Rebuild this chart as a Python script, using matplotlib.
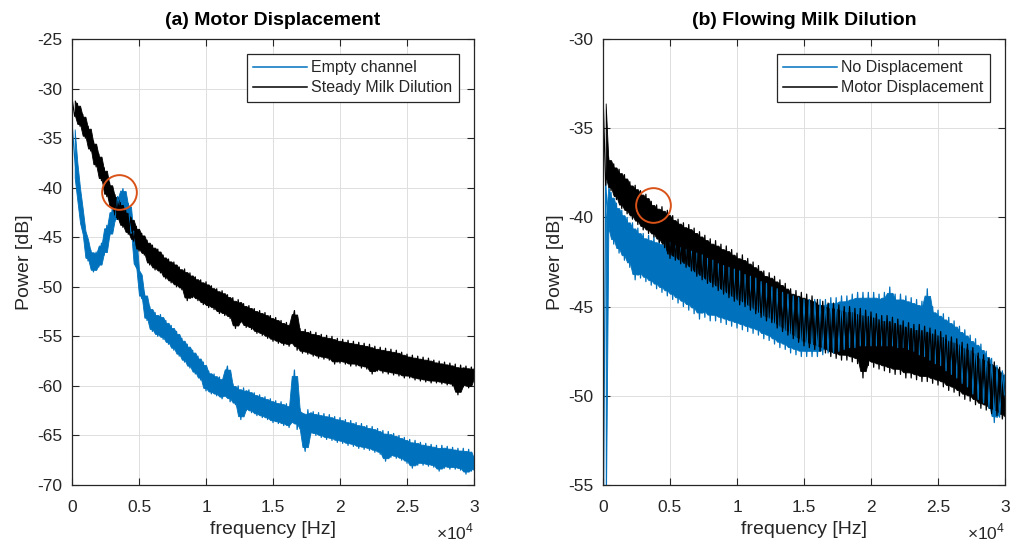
import numpy as np
import matplotlib
matplotlib.use("Agg")
import matplotlib.pyplot as plt

plt.rcParams['font.family'] = ['Liberation Sans', 'DejaVu Sans']
plt.rcParams['mathtext.fontset'] = 'custom'
plt.rcParams['mathtext.rm'] = 'Liberation Sans'

# ---------------- data ----------------
freq_step_hz = 200
n_samples = 151
freq_hz = np.arange(n_samples) * freq_step_hz

# (a) Motor Displacement
empty_channel_db = [
    -33.5, -37.0, -39.6, -41.8, -44.0, -45.0, -47.4, -46.3, -48.5, -46.5,
    -48.0, -45.6, -46.8, -43.8, -44.9, -42.2, -43.4, -40.9, -42.0, -40.1,
    -42.5, -41.6, -44.6, -44.4, -48.0, -48.5, -51.2, -50.6, -53.4, -52.0,
    -54.5, -52.6, -55.0, -52.8, -55.3, -53.4, -55.8, -53.9, -56.4, -54.5,
    -57.0, -55.2, -57.6, -55.8, -58.2, -56.4, -58.8, -57.0, -59.4, -57.6,
    -60.5, -58.5, -60.8, -58.8, -61.0, -59.1, -61.3, -59.3, -58.0, -61.6,
    -59.8, -61.9, -60.0, -63.4, -60.2, -62.5, -60.4, -62.7, -60.7, -63.0,
    -60.9, -63.2, -61.1, -63.4, -61.3, -63.7, -61.5, -63.8, -61.6, -64.0,
    -61.8, -64.2, -62.0, -58.4, -64.4, -62.3, -64.6, -66.6, -62.4, -64.9,
    -62.6, -65.0, -62.7, -65.2, -62.8, -65.4, -62.9, -65.5, -63.1, -65.7,
    -63.2, -65.8, -63.4, -66.0, -63.5, -66.1, -63.7, -66.3, -63.8, -66.4,
    -64.0, -66.5, -64.1, -66.7, -64.3, -66.9, -64.5, -67.6, -64.6, -67.2,
    -64.8, -67.3, -65.0, -67.5, -65.2, -67.8, -65.4, -68.3, -65.5, -68.0,
    -65.7, -68.0, -65.8, -68.1, -65.9, -68.2, -66.0, -68.6, -66.0, -68.3,
    -66.1, -68.4, -66.2, -68.4, -66.3, -68.5, -66.3, -68.9, -66.4, -68.6,
    -67.2,
]
steady_milk_db = [
    -31.0, -32.8, -31.5, -33.8, -32.6, -35.0, -33.8, -36.3, -35.3, -37.9,
    -36.6, -39.3, -38.0, -40.9, -39.5, -42.1, -40.7, -43.2, -41.5, -44.0,
    -42.3, -44.7, -43.0, -45.4, -43.9, -46.4, -44.6, -46.8, -45.3, -47.8,
    -45.8, -48.3, -46.2, -48.6, -46.8, -49.2, -47.2, -49.6, -47.5, -50.0,
    -48.0, -50.3, -48.2, -51.4, -48.6, -51.1, -49.0, -51.4, -49.3, -51.8,
    -49.5, -52.1, -49.9, -52.3, -50.2, -52.7, -50.4, -52.9, -50.8, -53.2,
    -51.1, -54.2, -51.3, -53.6, -51.7, -54.1, -51.9, -54.3, -52.2, -54.7,
    -52.4, -54.9, -52.6, -55.2, -52.9, -55.5, -53.1, -55.7, -53.4, -55.9,
    -53.6, -56.0, -53.8, -52.4, -56.4, -54.2, -56.7, -54.3, -56.8, -54.5,
    -57.0, -54.6, -57.2, -54.8, -57.3, -54.9, -57.4, -55.0, -57.8, -55.2,
    -57.7, -55.3, -57.8, -55.4, -58.0, -55.5, -58.0, -55.6, -58.2, -55.7,
    -58.3, -55.8, -58.8, -56.0, -58.5, -56.1, -58.7, -56.2, -58.8, -56.3,
    -58.9, -56.4, -59.0, -56.6, -59.2, -56.8, -59.2, -56.9, -59.4, -57.0,
    -59.5, -57.1, -59.6, -57.2, -59.7, -57.4, -59.7, -57.5, -59.8, -57.6,
    -59.9, -57.7, -60.0, -57.8, -60.9, -57.9, -60.1, -58.0, -60.2, -58.1,
    -59.3,
]

# (b) Flowing Milk Dilution
no_displacement_db = [
    -60.0, -38.0, -40.8, -38.6, -41.5, -39.2, -42.0, -39.6, -42.4, -40.0,
    -42.8, -40.3, -43.5, -40.6, -43.4, -40.9, -43.6, -41.0, -43.8, -41.1,
    -44.0, -41.2, -44.2, -41.3, -44.4, -41.4, -44.6, -41.6, -44.8, -41.7,
    -45.0, -41.8, -45.2, -41.9, -45.4, -42.0, -45.7, -42.1, -45.6, -42.3,
    -45.8, -42.4, -45.8, -42.6, -45.9, -42.7, -46.0, -42.8, -46.1, -42.9,
    -46.2, -43.0, -46.3, -43.2, -46.4, -43.3, -46.5, -43.4, -46.6, -43.6,
    -46.8, -43.7, -46.9, -43.9, -47.1, -44.0, -47.3, -44.2, -47.4, -44.3,
    -47.6, -44.4, -47.7, -44.5, -47.8, -44.6, -47.8, -44.6, -47.8, -44.6,
    -47.8, -44.6, -47.7, -44.6, -47.6, -44.5, -47.6, -44.5, -47.5, -44.4,
    -47.4, -44.4, -47.3, -44.3, -47.3, -44.2, -47.2, -44.2, -47.2, -44.2,
    -47.2, -44.2, -47.2, -44.3, -47.2, -44.2, -47.2, -43.9, -47.2, -44.3,
    -47.3, -44.3, -47.3, -44.4, -47.4, -44.5, -47.5, -44.6, -47.7, -44.7,
    -47.8, -44.0, -48.0, -45.0, -48.2, -45.2, -48.3, -45.4, -48.6, -45.6,
    -48.8, -45.8, -49.0, -46.1, -49.3, -46.3, -49.5, -46.6, -49.9, -46.8,
    -50.2, -47.1, -50.4, -47.5, -50.7, -47.9, -51.5, -48.3, -51.2, -48.6,
    -50.3,
]
motor_displacement_db = [
    -33.1, -38.2, -36.6, -38.5, -37.0, -39.0, -37.3, -39.5, -37.6, -39.8,
    -38.0, -40.1, -38.2, -40.4, -38.5, -40.7, -38.7, -40.9, -39.1, -41.1,
    -39.3, -41.4, -39.4, -41.7, -39.6, -42.3, -39.9, -42.4, -40.1, -42.6,
    -40.3, -42.8, -40.4, -43.0, -40.6, -43.3, -40.8, -43.5, -41.0, -43.7,
    -41.2, -43.9, -41.3, -44.1, -41.5, -44.3, -41.6, -44.5, -41.8, -44.7,
    -42.0, -44.9, -42.1, -45.0, -42.3, -45.2, -42.5, -45.4, -42.7, -45.6,
    -43.0, -45.8, -43.1, -45.9, -43.3, -46.2, -43.5, -46.4, -43.7, -46.6,
    -44.0, -46.8, -44.1, -47.0, -44.2, -47.2, -44.3, -47.3, -44.4, -47.4,
    -44.6, -47.5, -44.7, -47.6, -44.8, -47.8, -44.8, -47.9, -44.9, -48.0,
    -45.0, -48.0, -45.0, -48.1, -45.1, -48.2, -45.1, -49.0, -45.2, -48.3,
    -45.3, -48.4, -45.4, -48.5, -45.5, -48.6, -45.5, -48.7, -45.6, -48.8,
    -45.7, -48.8, -45.8, -49.0, -45.9, -49.0, -46.0, -49.1, -46.0, -49.2,
    -46.1, -49.2, -46.2, -49.3, -46.3, -49.4, -46.4, -49.5, -46.6, -49.7,
    -46.7, -49.8, -46.8, -50.0, -47.0, -50.2, -47.1, -50.3, -47.3, -50.5,
    -47.6, -50.7, -47.7, -50.8, -47.9, -51.0, -48.1, -51.1, -48.4, -51.3,
    -50.0,
]

# highlighted regions (orange circles)
circle_a_hz = [3500]
circle_a_db = [-40.4]
circle_b_hz = [3730]
circle_b_db = [-39.3]

xtick_hz = [0, 5000, 10000, 15000, 20000, 25000, 30000]
xtick_labels = ['0', '0.5', '1', '1.5', '2', '2.5', '3']
ytick_a = [-70, -65, -60, -55, -50, -45, -40, -35, -30, -25]
ytick_b = [-55, -50, -45, -40, -35, -30]

titles = ['(a) Motor Displacement', '(b) Flowing Milk Dilution']
legend_a = ['Empty channel', 'Steady Milk Dilution']
legend_b = ['No Displacement', 'Motor Displacement']

# ---------------- styling ----------------
BLUE = '#0072BD'
BLACK = '#000000'
ORANGE = '#D95319'
AXC = '#262626'

fig = plt.figure(figsize=(10.10, 5.45), dpi=100)
W, H = 1010, 545
ax_a = fig.add_axes([72 / W, 60 / H, 402 / W, 446 / H])
ax_b = fig.add_axes([603 / W, 60 / H, 402 / W, 446 / H])


def noisy_trace(ax, values, color, label):
    v = np.asarray(values, dtype=float)
    # local envelope of the trace (neighbouring samples); DC bin skipped
    prev_v = np.concatenate([v[:1], v[:-1]])
    next_v = np.concatenate([v[1:], v[-1:]])
    lo = np.minimum(np.minimum(prev_v, v), next_v)
    hi = np.maximum(np.maximum(prev_v, v), next_v)
    span = hi - lo
    core_lo = lo + 0.1 * span
    core_hi = hi - 0.1 * span
    ax.fill_between(freq_hz[1:], core_lo[1:], core_hi[1:], color=color, lw=0.6,
                    edgecolor=color)
    ax.plot(freq_hz, v, color=color, lw=0.9, label=label)


def style(ax, yticks, title, ylim):
    ax.set_xlim(0, 30000)
    ax.set_ylim(*ylim)
    ax.set_xticks(xtick_hz)
    ax.set_xticklabels(xtick_labels)
    ax.set_yticks(yticks)
    ax.set_yticklabels([str(v) for v in yticks])
    ax.tick_params(direction='in', length=5, width=0.8, colors=AXC,
                   labelsize=12.5, top=True, right=True, pad=7)
    ax.tick_params(axis='x', pad=11)
    for s in ax.spines.values():
        s.set_color(AXC)
        s.set_linewidth(0.9)
    ax.grid(True, color='#dedede', linewidth=0.7)
    ax.set_axisbelow(True)
    ax.set_title(title, fontsize=14, fontweight='bold', color='#000000', pad=10)
    ax.set_xlabel('frequency [Hz]', fontsize=14, color=AXC, labelpad=4)
    ax.set_ylabel('Power [dB]', fontsize=14, color=AXC, labelpad=3)


# (a)
noisy_trace(ax_a, empty_channel_db, BLUE, legend_a[0])
noisy_trace(ax_a, steady_milk_db, BLACK, legend_a[1])
ax_a.plot(circle_a_hz, circle_a_db, 'o', ms=25, mfc='none', mec=ORANGE, mew=1.4)
style(ax_a, ytick_a, titles[0], (-70, -25))

# (b)
noisy_trace(ax_b, no_displacement_db, BLUE, legend_b[0])
noisy_trace(ax_b, motor_displacement_db, BLACK, legend_b[1])
ax_b.plot(circle_b_hz, circle_b_db, 'o', ms=25, mfc='none', mec=ORANGE, mew=1.4)
style(ax_b, ytick_b, titles[1], (-55, -30))

for ax in (ax_a, ax_b):
    leg = ax.legend(loc='upper right', bbox_to_anchor=(1 - 15 / 402, 1 - 15 / 446),
                    borderaxespad=0, fontsize=11.5, handlelength=3.4,
                    handletextpad=0.25, borderpad=0.4, labelspacing=0.3,
                    fancybox=False, framealpha=1, edgecolor=AXC)
    leg.get_frame().set_linewidth(0.9)
    for t in leg.get_texts():
        t.set_color(AXC)
    for l in leg.get_lines():
        l.set_linewidth(1.1)

fig.text(474 / W, 1 - 522 / H, r'$\times10^{4}$', ha='right', va='top',
         fontsize=12.5, color=AXC)
fig.text(1005 / W, 1 - 522 / H, r'$\times10^{4}$', ha='right', va='top',
         fontsize=12.5, color=AXC)

fig.savefig('out.png', dpi=100)
